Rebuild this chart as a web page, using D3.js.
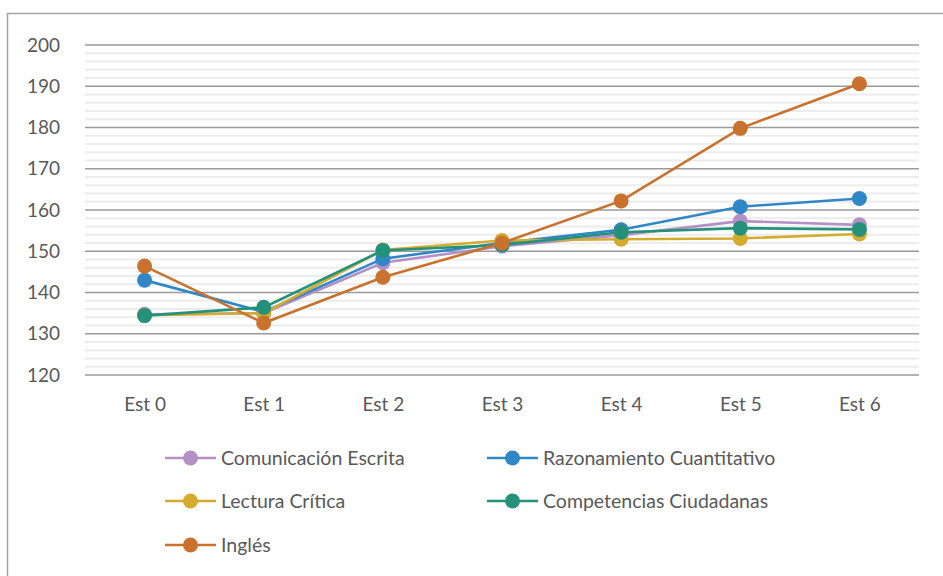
<!DOCTYPE html>
<meta charset="utf-8">
<style>
  body { margin: 0; background: #fff; }
  text { font-family: Lato, "Open Sans", sans-serif; fill: #595959; }
</style>
<svg width="943" height="576"></svg>
<script src="https://d3js.org/d3.v7.min.js"></script>
<script>

var categories = ["Est 0", "Est 1", "Est 2", "Est 3", "Est 4", "Est 5", "Est 6"];
var seriesNames = ["Comunicación Escrita", "Razonamiento Cuantitativo", "Lectura Crítica", "Competencias Ciudadanas", "Inglés"];
var comunicacion = [134.7, 135.0, 147.2, 151.2, 153.9, 157.3, 156.4];
var razonamiento = [143.0, 135.3, 148.2, 152.0, 155.2, 160.8, 162.8];
var lectura      = [134.5, 135.0, 150.3, 152.6, 152.9, 153.1, 154.2];
var competencias = [134.4, 136.4, 150.2, 151.5, 154.6, 155.6, 155.3];
var ingles       = [146.4, 132.6, 143.7, 152.0, 162.2, 179.8, 190.6];
var yTicks = [120, 130, 140, 150, 160, 170, 180, 190, 200];

var colors = ["#b590c7", "#2f87c8", "#d4ab2d", "#24917a", "#c8722e"];
var seriesValues = [comunicacion, razonamiento, lectura, competencias, ingles];

var svg = d3.select("svg"), width = +svg.attr("width"), height = +svg.attr("height");

// chart frame (runs off right and bottom edge like the original)
svg.append("rect").attr("x", 7.5).attr("y", 13.5).attr("width", 1200).attr("height", 1200)
    .attr("fill", "none").attr("stroke", "#a3a3a3").attr("stroke-width", 1.5);

var x = d3.scalePoint().domain(categories).range([85, 919]).padding(0.5);
var y = d3.scaleLinear().domain([120, 200]).range([375, 45]);

// minor grid every 2
var g = svg.append("g");
g.selectAll("line.minor")
  .data(d3.range(122, 200, 2).filter(function(d) { return d % 10 != 0; }))
  .enter().append("line")
    .attr("class", "minor")
    .attr("x1", 85).attr("x2", 919)
    .attr("y1", function(d) { return y(d); }).attr("y2", function(d) { return y(d); })
    .attr("stroke", "#ececec").attr("stroke-width", 1.8);

g.selectAll("line.major")
  .data(yTicks)
  .enter().append("line")
    .attr("class", "major")
    .attr("x1", 85).attr("x2", 919)
    .attr("y1", function(d) { return y(d); }).attr("y2", function(d) { return y(d); })
    .attr("stroke", "#9a9a9a").attr("stroke-width", 1.5);

var yAxis = svg.append("g").attr("transform", "translate(85,0)")
  .call(d3.axisLeft(y).tickValues(yTicks).tickSize(0).tickPadding(25));
yAxis.select(".domain").remove();
yAxis.selectAll("text").style("font-size", "19px").style("font-family", "Lato").attr("fill", "#595959");

var xAxis = svg.append("g").attr("transform", "translate(0,375)")
  .call(d3.axisBottom(x).tickSize(0).tickPadding(23));
xAxis.select(".domain").remove();
xAxis.selectAll("text").style("font-size", "19px").style("font-family", "Lato").attr("fill", "#595959");

var line = d3.line()
    .x(function(d, i) { return x(categories[i]); })
    .y(function(d) { return y(d); });

seriesValues.forEach(function(vals, k) {
  var s = svg.append("g");
  s.append("path").datum(vals)
    .attr("d", line).attr("fill", "none")
    .attr("stroke", colors[k]).attr("stroke-width", 2.6);
  s.selectAll("circle").data(vals).enter().append("circle")
    .attr("cx", function(d, i) { return x(categories[i]); })
    .attr("cy", function(d) { return y(d); })
    .attr("r", 7.5)
    .attr("fill", colors[k]);
});

// legend
var legPos = [[165, 458], [487, 458], [165, 501], [487, 501], [165, 545]];
seriesNames.forEach(function(name, k) {
  var lg = svg.append("g").attr("transform", "translate(" + legPos[k][0] + "," + legPos[k][1] + ")");
  lg.append("line").attr("x1", 0).attr("x2", 51).attr("y1", 0).attr("y2", 0)
    .attr("stroke", colors[k]).attr("stroke-width", 2.6);
  lg.append("circle").attr("cx", 25.5).attr("cy", 0).attr("r", 7.5).attr("fill", colors[k]);
  lg.append("text").attr("x", 56).attr("y", 0).attr("dy", "0.35em")
    .style("font-size", "19.5px").text(name);
});

</script>
